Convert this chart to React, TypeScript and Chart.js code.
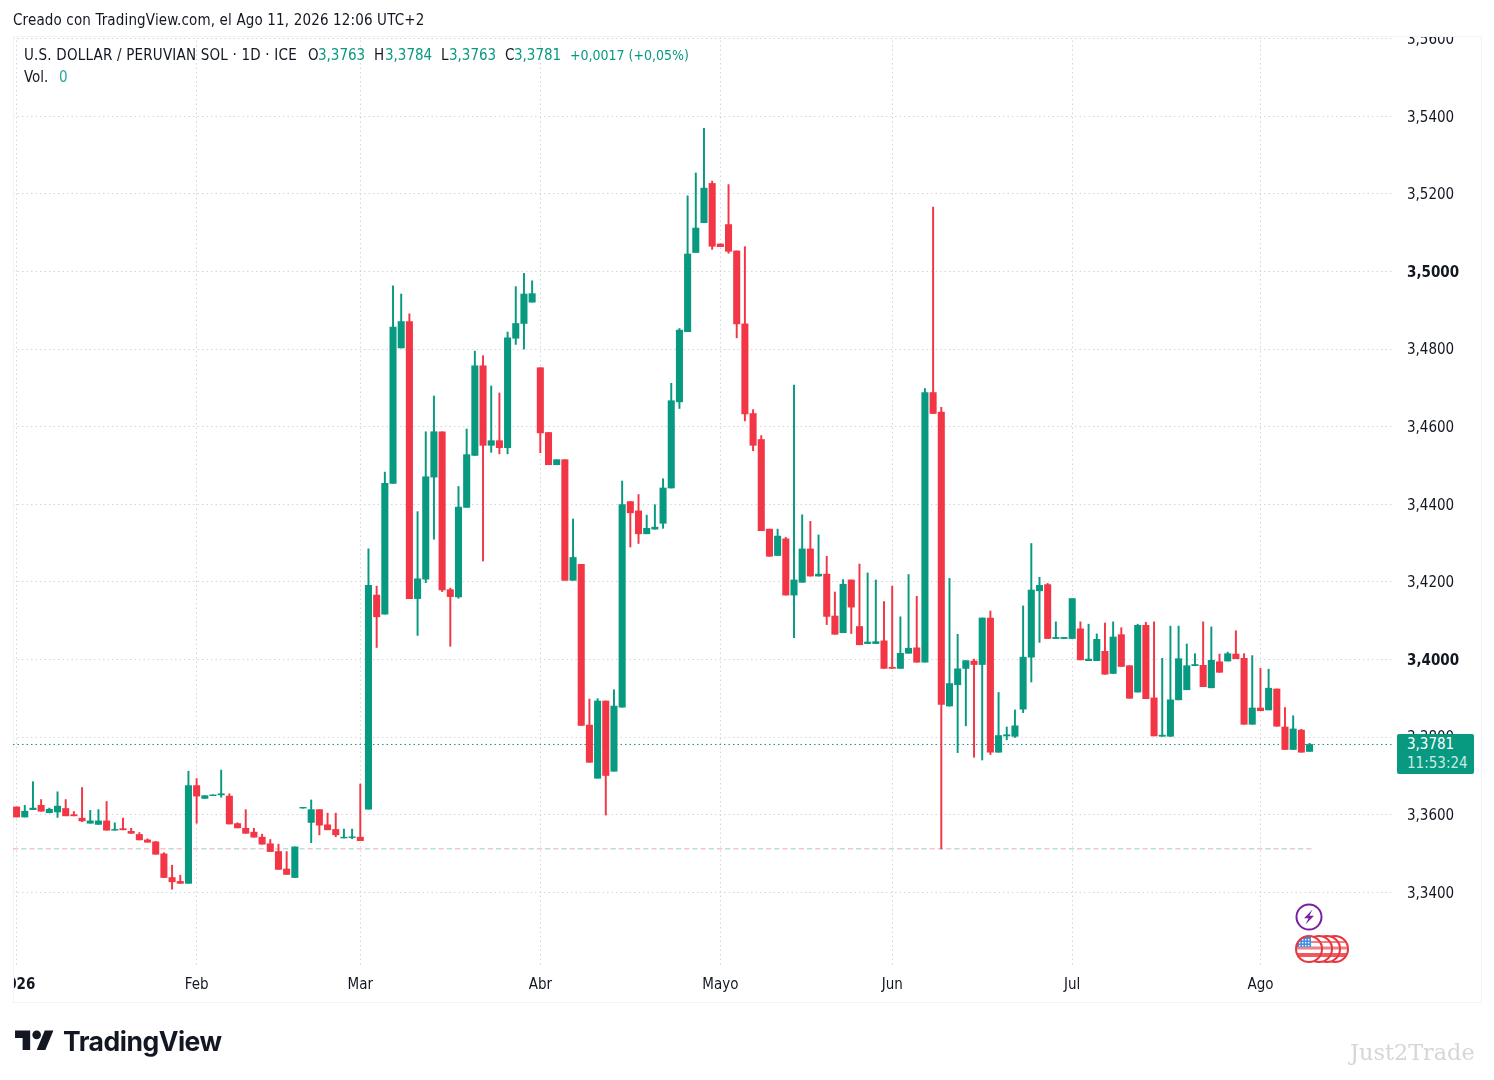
import React, { useEffect, useRef } from "react";
import { Chart, registerables } from "chart.js";

Chart.register(...registerables);

const opens = [
  3.3620, 3.3594, 3.3613, 3.3624, 3.3605, 3.3607, 3.3616, 3.3600, 3.3591, 3.3578,
  3.3575, 3.3584, 3.3560, 3.3564, 3.3557, 3.3549, 3.3535, 3.3530, 3.3499, 3.3438,
  3.3428, 3.3423, 3.3675, 3.3642, 3.3649, 3.3651, 3.3648, 3.3577, 3.3565, 3.3555,
  3.3542, 3.3525, 3.3505, 3.3460, 3.3438, 3.3617, 3.3580, 3.3613, 3.3574, 3.3562,
  3.3540, 3.3541, 3.3542, 3.3614, 3.4166, 3.4117, 3.4454, 3.4803, 3.4871, 3.4157,
  3.4207, 3.4470, 3.4587, 3.4180, 3.4161, 3.4392, 3.4526, 3.4757, 3.4552, 3.4564,
  3.4546, 3.4828, 3.4866, 3.4921, 3.4752, 3.4585, 3.4502, 3.4515, 3.4204, 3.4245,
  3.3831, 3.3694, 3.3893, 3.3712, 3.3877, 3.4407, 3.4383, 3.4324, 3.4336, 3.4351,
  3.4442, 3.4664, 3.4845, 3.5049, 3.5126, 3.5227, 3.5071, 3.5121, 3.5053, 3.4865,
  3.4634, 3.4567, 3.4336, 3.4268, 3.4311, 3.4166, 3.4199, 3.4285, 3.4215, 3.4220,
  3.4112, 3.4069, 3.4205, 3.4085, 3.4041, 3.4041, 3.4048, 3.3980, 3.3977, 3.4016,
  3.4030, 3.3993, 3.4688, 3.4638, 3.3880, 3.3935, 3.3977, 3.3996, 3.3987, 3.4107,
  3.3761, 3.3803, 3.3802, 3.3872, 3.4006, 3.4177, 3.4193, 3.4054, 3.4054, 3.4054,
  3.4079, 3.3997, 3.3997, 3.4021, 3.3964, 3.4064, 3.3984, 3.3916, 3.4088, 3.3901,
  3.3802, 3.3802, 3.3896, 3.3922, 3.3984, 3.3985, 3.3927, 3.3994, 3.3996, 3.4014,
  3.4003, 3.3833, 3.3875, 3.3870, 3.3924, 3.3826, 3.3768, 3.3818, 3.3763,
];
const highs = [
  3.3620, 3.3624, 3.3685, 3.3639, 3.3617, 3.3659, 3.3639, 3.3608, 3.3670, 3.3611,
  3.3613, 3.3634, 3.3579, 3.3591, 3.3565, 3.3554, 3.3538, 3.3531, 3.3502, 3.3470,
  3.3444, 3.3712, 3.3693, 3.3649, 3.3651, 3.3715, 3.3654, 3.3579, 3.3613, 3.3565,
  3.3550, 3.3536, 3.3524, 3.3505, 3.3517, 3.3619, 3.3638, 3.3613, 3.3604, 3.3604,
  3.3563, 3.3563, 3.3679, 3.4285, 3.4189, 3.4483, 3.4963, 3.4942, 3.4891, 3.4381,
  3.4587, 3.4679, 3.4587, 3.4184, 3.4446, 3.4594, 3.4795, 3.4783, 3.4705, 3.4687,
  3.4844, 3.4961, 3.4995, 3.4976, 3.4752, 3.4585, 3.4515, 3.4515, 3.4362, 3.4245,
  3.3898, 3.3899, 3.3893, 3.3922, 3.4460, 3.4407, 3.4425, 3.4372, 3.4399, 3.4466,
  3.4712, 3.4853, 3.5195, 3.5254, 3.5369, 3.5233, 3.5071, 3.5224, 3.5053, 3.5064,
  3.4644, 3.4577, 3.4336, 3.4336, 3.4315, 3.4707, 3.4373, 3.4356, 3.4321, 3.4266,
  3.4174, 3.4206, 3.4205, 3.4246, 3.4223, 3.4205, 3.4149, 3.4189, 3.4110, 3.4219,
  3.4163, 3.4698, 3.5166, 3.4650, 3.4209, 3.4065, 3.3997, 3.4001, 3.4107, 3.4125,
  3.3915, 3.3826, 3.3870, 3.4138, 3.4299, 3.4212, 3.4196, 3.4097, 3.4057, 3.4157,
  3.4097, 3.4091, 3.4066, 3.4094, 3.4097, 3.4082, 3.3984, 3.4091, 3.4096, 3.4097,
  3.4003, 3.4086, 3.4086, 3.4040, 3.4015, 3.4097, 3.4084, 3.4014, 3.4019, 3.4074,
  3.4015, 3.4010, 3.3977, 3.3975, 3.3924, 3.3876, 3.3855, 3.3820, 3.3784,
];
const lows = [
  3.3594, 3.3594, 3.3613, 3.3609, 3.3605, 3.3593, 3.3597, 3.3597, 3.3582, 3.3578,
  3.3575, 3.3560, 3.3560, 3.3561, 3.3552, 3.3535, 3.3529, 3.3498, 3.3438, 3.3408,
  3.3423, 3.3423, 3.3578, 3.3642, 3.3649, 3.3645, 3.3576, 3.3566, 3.3552, 3.3542,
  3.3524, 3.3505, 3.3459, 3.3446, 3.3438, 3.3617, 3.3528, 3.3548, 3.3561, 3.3543,
  3.3540, 3.3538, 3.3533, 3.3614, 3.4031, 3.4117, 3.4454, 3.4803, 3.4157, 3.4062,
  3.4198, 3.4310, 3.4175, 3.4034, 3.4158, 3.4392, 3.4526, 3.4254, 3.4534, 3.4530,
  3.4530, 3.4812, 3.4800, 3.4921, 3.4533, 3.4502, 3.4502, 3.4204, 3.4204, 3.3830,
  3.3735, 3.3694, 3.3599, 3.3712, 3.3877, 3.4290, 3.4299, 3.4324, 3.4336, 3.4338,
  3.4442, 3.4647, 3.4845, 3.5049, 3.5126, 3.5057, 3.5064, 3.5047, 3.4829, 3.4615,
  3.4538, 3.4332, 3.4266, 3.4268, 3.4166, 3.4056, 3.4199, 3.4215, 3.4215, 3.4090,
  3.4065, 3.4069, 3.4067, 3.4038, 3.4041, 3.4041, 3.3977, 3.3977, 3.3977, 3.4016,
  3.3993, 3.3993, 3.4634, 3.3512, 3.3880, 3.3760, 3.3829, 3.3748, 3.3741, 3.3755,
  3.3761, 3.3793, 3.3799, 3.3863, 3.3942, 3.4044, 3.4054, 3.4054, 3.4054, 3.4054,
  3.3999, 3.3997, 3.3997, 3.3962, 3.3964, 3.3982, 3.3900, 3.3916, 3.3899, 3.3803,
  3.3802, 3.3802, 3.3896, 3.3922, 3.3984, 3.3930, 3.3927, 3.3967, 3.3996, 3.4002,
  3.3833, 3.3833, 3.3868, 3.3870, 3.3828, 3.3768, 3.3768, 3.3761, 3.3763,
];
const closes = [
  3.3594, 3.3609, 3.3617, 3.3609, 3.3614, 3.3622, 3.3597, 3.3597, 3.3584, 3.3584,
  3.3584, 3.3560, 3.3562, 3.3561, 3.3552, 3.3535, 3.3529, 3.3498, 3.3438, 3.3427,
  3.3423, 3.3675, 3.3648, 3.3649, 3.3651, 3.3654, 3.3576, 3.3566, 3.3552, 3.3542,
  3.3524, 3.3505, 3.3459, 3.3446, 3.3517, 3.3619, 3.3613, 3.3573, 3.3561, 3.3548,
  3.3542, 3.3543, 3.3533, 3.4191, 3.4110, 3.4454, 3.4857, 3.4871, 3.4157, 3.4208,
  3.4471, 3.4587, 3.4179, 3.4162, 3.4393, 3.4528, 3.4757, 3.4552, 3.4564, 3.4546,
  3.4829, 3.4866, 3.4942, 3.4943, 3.4584, 3.4502, 3.4515, 3.4204, 3.4263, 3.3830,
  3.3735, 3.3893, 3.3701, 3.3880, 3.4399, 3.4378, 3.4324, 3.4338, 3.4341, 3.4442,
  3.4667, 3.4849, 3.5045, 3.5112, 3.5215, 3.5065, 3.5064, 3.5052, 3.4865, 3.4633,
  3.4552, 3.4332, 3.4266, 3.4318, 3.4166, 3.4205, 3.4285, 3.4215, 3.4220, 3.4111,
  3.4065, 3.4194, 3.4135, 3.4038, 3.4045, 3.4046, 3.3977, 3.3977, 3.4016, 3.4029,
  3.3993, 3.4688, 3.4634, 3.3884, 3.3938, 3.3976, 3.3997, 3.3987, 3.4107, 3.3761,
  3.3804, 3.3806, 3.3829, 3.4006, 3.4179, 3.4191, 3.4054, 3.4057, 3.4057, 3.4157,
  3.3999, 3.4001, 3.4052, 3.3962, 3.4058, 3.3982, 3.3900, 3.4088, 3.3899, 3.3803,
  3.3805, 3.3896, 3.4002, 3.3984, 3.3987, 3.3930, 3.3998, 3.3967, 3.4015, 3.4002,
  3.3833, 3.3875, 3.3868, 3.3926, 3.3828, 3.3768, 3.3821, 3.3761, 3.3781,
];

const monthIndexes = [0, 22, 42, 64, 86, 107, 129, 152];
const monthLabels = ["2026", "Feb", "Mar", "Abr", "Mayo", "Jun", "Jul", "Ago"];
const priceTicks = [3.34, 3.36, 3.38, 3.4, 3.42, 3.44, 3.46, 3.48, 3.5, 3.52, 3.54, 3.56];
const boldPrices = [3.4, 3.5];

const lastPrice = 3.3781;
const lowestPrice = 3.3512;

const headerValues = [
  { text: "U.S. DOLLAR / PERUVIAN SOL · 1D · ICE", left: 24, color: "#131722", size: 15, spacing: 0.2 },
  { text: "O", left: 308, color: "#131722", size: 15, spacing: 0 },
  { text: "3,3763", left: 318, color: "#089981", size: 15, spacing: 0 },
  { text: "H", left: 374, color: "#131722", size: 15, spacing: 0 },
  { text: "3,3784", left: 385, color: "#089981", size: 15, spacing: 0 },
  { text: "L", left: 441, color: "#131722", size: 15, spacing: 0 },
  { text: "3,3763", left: 449, color: "#089981", size: 15, spacing: 0 },
  { text: "C", left: 505, color: "#131722", size: 15, spacing: 0 },
  { text: "3,3781", left: 514, color: "#089981", size: 15, spacing: 0 },
  { text: "+0,0017 (+0,05%)", left: 570, color: "#089981", size: 14, spacing: 0 },
];

const GREEN = "#089981";
const RED = "#F23645";
const FONT = "'DejaVu Sans Condensed', 'DejaVu Sans', sans-serif";

const PANE = { left: 13, top: 36, right: 1393, bottom: 966 };
const FRAME = { right: 1481, bottom: 1002 };

const pageFurniture = {
  id: "pageFurniture",
  beforeDatasetsDraw(chart: any) {
    const { ctx } = chart;
    ctx.save();
    ctx.fillStyle = "#ffffff";
    ctx.fillRect(0, 0, chart.width, PANE.top);
    ctx.fillRect(0, PANE.top, PANE.left, chart.height - PANE.top);
    ctx.strokeStyle = "#f0f3fa";
    ctx.lineWidth = 1;
    ctx.strokeRect(PANE.left + 0.5, PANE.top + 0.5, FRAME.right - PANE.left, FRAME.bottom - PANE.top);
    ctx.restore();
  },
};

const textStyle: React.CSSProperties = {
  position: "absolute",
  fontFamily: FONT,
  fontSize: 15,
  lineHeight: "18px",
  whiteSpace: "nowrap",
};

export default function App() {
  const ref = useRef<HTMLCanvasElement | null>(null);

  useEffect(() => {
    if (!ref.current) return;
    const colors = opens.map((o, i) => (closes[i] >= o ? GREEN : RED));
    const xMin = -0.44;
    const xMax = 168.2;
    const chart = new Chart(ref.current, {
      type: "bar",
      data: {
        datasets: [
          {
            label: "Body",
            data: opens.map((o, i) => ({ x: i, y: [o, closes[i]] })),
            backgroundColor: colors,
            barThickness: 6.4,
            grouped: false,
            order: 1,
          },
          {
            label: "Wick",
            data: opens.map((_, i) => ({ x: i, y: [lows[i], highs[i]] })),
            backgroundColor: colors,
            barThickness: 1.3,
            grouped: false,
            order: 2,
          },
          {
            type: "line",
            label: "Last",
            data: [{ x: xMin, y: lastPrice }, { x: xMax, y: lastPrice }],
            borderColor: GREEN,
            borderWidth: 1,
            borderDash: [1.5, 3],
            pointRadius: 0,
            order: 3,
          },
          {
            type: "line",
            label: "LowRed",
            data: [{ x: xMin, y: lowestPrice }, { x: 158.6, y: lowestPrice }],
            borderColor: "rgba(242,54,69,0.45)",
            borderWidth: 1,
            borderDash: [5.2, 11.17],
            pointRadius: 0,
            order: 3,
          },
          {
            type: "line",
            label: "LowGreen",
            data: [{ x: xMin, y: lowestPrice }, { x: 158.6, y: lowestPrice }],
            borderColor: "rgba(8,153,129,0.45)",
            borderWidth: 1,
            borderDash: [5.2, 11.17],
            borderDashOffset: -8.18,
            pointRadius: 0,
            order: 3,
          },
        ] as any,
      },
      options: {
        animation: false,
        responsive: false,
        maintainAspectRatio: false,
        devicePixelRatio: 1,
        layout: {
          padding: {
            left: PANE.left,
            top: PANE.top,
            right: 1494 - FRAME.right,
            bottom: 1080 - FRAME.bottom,
          },
        },
        plugins: { legend: { display: false }, tooltip: { enabled: false } },
        scales: {
          x: {
            type: "linear",
            offset: false,
            min: xMin,
            max: xMax,
            grid: { color: "#d3d6de", offset: false, drawTicks: false, lineWidth: 1 },
            border: { display: false, dash: [1.5, 3] },
            afterBuildTicks(scale: any) {
              scale.ticks = monthIndexes.map((value) => ({ value }));
            },
            afterFit(scale: any) {
              scale.height = FRAME.bottom - PANE.bottom;
              scale.paddingLeft = 0;
              scale.paddingRight = 0;
            },
            ticks: {
              autoSkip: false,
              maxRotation: 0,
              minRotation: 0,
              padding: 10,
              color: "#131722",
              font: (ctx: any) => ({
                family: FONT,
                size: 15,
                weight: ctx.tick && ctx.tick.value === monthIndexes[0] ? "bold" : "normal",
              }),
              callback: (value: any) => monthLabels[monthIndexes.indexOf(value)] ?? "",
            },
          },
          y: {
            type: "linear",
            position: "right",
            min: 3.321,
            max: 3.5607,
            grid: { color: "#d3d6de", drawTicks: false, lineWidth: 1 },
            border: { display: false, dash: [1.5, 3] },
            afterBuildTicks(scale: any) {
              scale.ticks = priceTicks.map((value) => ({ value }));
            },
            afterFit(scale: any) {
              scale.width = FRAME.right - PANE.right;
              scale.paddingTop = 0;
              scale.paddingBottom = 0;
            },
            ticks: {
              autoSkip: false,
              padding: 14,
              labelOffset: 1.5,
              color: "#131722",
              font: (ctx: any) => ({
                family: FONT,
                size: 15,
                weight: ctx.tick && boldPrices.includes(ctx.tick.value) ? "bold" : "normal",
              }),
              callback: (value: any) => Number(value).toFixed(4).replace(".", ","),
            },
          },
        },
      } as any,
      plugins: [pageFurniture],
    });
    return () => chart.destroy();
  }, []);

  return (
    <div style={{ position: "absolute", left: 0, top: 0, width: 1494, height: 1080, background: "#fff", overflow: "hidden" }}>
      <canvas ref={ref} width={1494} height={1080} style={{ position: "absolute", left: 0, top: 0, width: 1494, height: 1080 }} />

      <div style={{ ...textStyle, left: 13, top: 11, color: "#131722", letterSpacing: "0.15px" }}>Creado con TradingView.com, el Ago 11, 2026 12:06 UTC+2</div>

      {headerValues.map((h, i) => (
        <div key={i} style={{ ...textStyle, left: h.left, top: 46, color: h.color, fontSize: h.size, letterSpacing: h.spacing }}>{h.text}</div>
      ))}
      <div style={{ ...textStyle, left: 24, top: 68, color: "#131722" }}>Vol.</div>
      <div style={{ ...textStyle, left: 59, top: 68, color: "#26a69a" }}>0</div>

      <div style={{ position: "absolute", left: 1397, top: 734, width: 77, height: 40, background: GREEN, borderRadius: 2 }} />
      <div style={{ ...textStyle, left: 1407, top: 735, color: "#ffffff" }}>3,3781</div>
      <div style={{ ...textStyle, left: 1407, top: 754, color: "rgba(255,255,255,0.8)" }}>11:53:24</div>

      <svg width={80} height={70} viewBox="0 0 80 70" style={{ position: "absolute", left: 1290, top: 900 }}>
        <circle cx={19} cy={17} r={12.5} fill="#fff" stroke="#7b1fa2" strokeWidth={2} />
        <path d="M22.5 9.5 L14 18.2 H18.6 L15.5 24.5 L24 15.8 H19.4 Z" fill="#7b1fa2" />
        {[45, 37, 29, 19].map((cx, i) => (
          <g key={i}>
            <clipPath id={"flag" + i}><circle cx={cx} cy={49} r={13} /></clipPath>
            <circle cx={cx} cy={49} r={13} fill="#fff" />
            <g clipPath={`url(#flag${i})`}>
              <rect x={cx - 13} y={41} width={26} height={2} fill="#f28085" />
              <rect x={cx - 13} y={46.5} width={26} height={3} fill="#f28085" />
              <rect x={cx - 13} y={53} width={26} height={4} fill="#ee5a60" />
              {i === 3 && <rect x={cx - 13} y={36} width={15} height={11} fill="#3f8fe0" />}
              {i === 3 &&
                [39, 42, 45].flatMap((y) =>
                  [9, 12, 15, 18].map((x) => <rect key={`${x}-${y}`} x={x + 0.0} y={y} width={1.4} height={1.4} fill="#fff" />),
                )}
            </g>
            <circle cx={cx} cy={49} r={13} fill="none" stroke="#e5383f" strokeWidth={2} />
          </g>
        ))}
      </svg>

      <svg width={39} height={20} viewBox="0 0 36 18.5" style={{ position: "absolute", left: 15, top: 1030 }}>
        <path d="M14 18.5H7V7.5H0V0.5h14v18zM28 18.5h-8l7.5-18h8L28 18.5z" fill="#131722" />
        <circle cx="20" cy="4.5" r="4" fill="#131722" />
      </svg>
      <div style={{ position: "absolute", left: 63, top: 1024, fontFamily: "Inter, sans-serif", fontWeight: 700, fontSize: 26.5, lineHeight: "34px", color: "#131722", letterSpacing: "-0.5px", whiteSpace: "nowrap" }}>TradingView</div>

      <div style={{ position: "absolute", left: 1350, top: 1038, fontFamily: "'DejaVu Serif', serif", fontSize: 22.4, lineHeight: "28px", color: "#d6d6d6", whiteSpace: "nowrap" }}>Just2Trade</div>
    </div>
  );
}
